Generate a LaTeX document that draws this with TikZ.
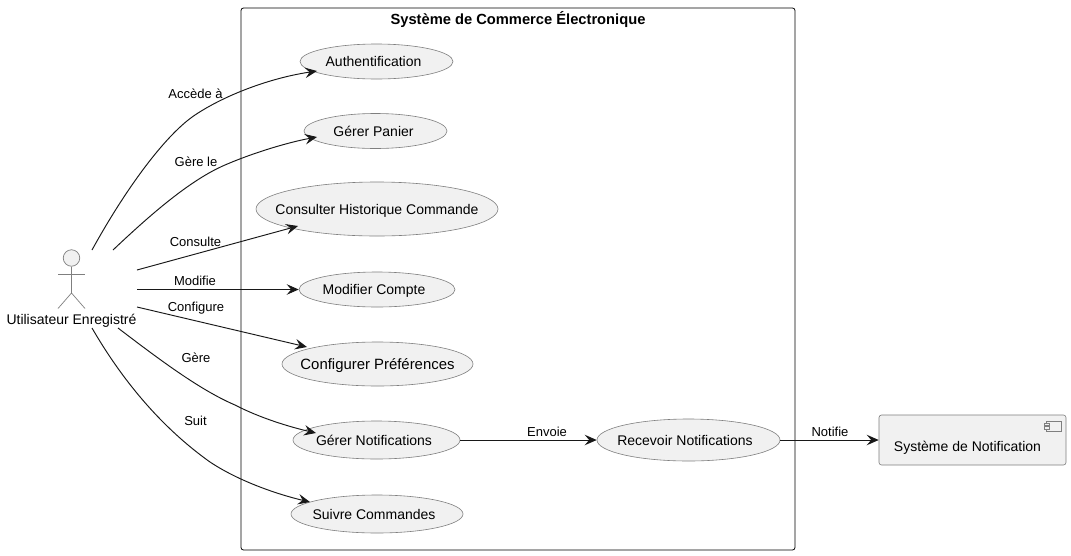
\documentclass[tikz,border=0pt]{standalone}
\usepackage{fontspec}
\setmainfont{Liberation Sans}
\usetikzlibrary{shapes.geometric,arrows.meta}
\definecolor{fillg}{HTML}{F1F1F1}
\definecolor{lineg}{HTML}{7F7F7F}
\definecolor{ink}{HTML}{181818}
\newcommand{\uctext}[2]{\raisebox{-5.3pt}[0pt][0pt]{\makebox[0pt][c]{\hspace*{#1pt}\hspace*{#1pt}#2}}}
\tikzset{
  uc/.style={draw=lineg,fill=fillg,ellipse,line width=0.6pt,inner sep=0pt,font=\fontsize{14}{16}\selectfont,text=black},
  lbl/.style={font=\fontsize{13}{15}\selectfont,text=black,inner sep=0pt},
  conn/.style={draw=ink,line width=0.95pt,-{Stealth[length=12pt,width=10.5pt,inset=4.5pt]}},
  act/.style={draw=lineg,line width=0.7pt}
}
\begin{document}
\begin{tikzpicture}[x=1pt,y=-1pt]
\useasboundingbox (0,0) rectangle (1071,555);
\fill[white] (0,0) rectangle (1071,555);
\node[draw=black,line width=0.8pt,rounded corners=2.5pt,minimum width=554pt,minimum height=542pt,inner sep=0pt] (sys) at (518,279) {};
\node[font=\fontsize{14.7}{16}\selectfont\bfseries,inner sep=0pt] (systitle) at (518,19.5) {Système de Commerce Électronique};

\node[uc,minimum width=153pt,minimum height=35pt] (auth) at (376.5,61.5) {\uctext{-3}{Authentification}};
\node[uc,minimum width=143pt,minimum height=35pt] (panier) at (375.5,131) {\uctext{-2}{Gérer Panier}};
\node[uc,minimum width=242pt,minimum height=54pt] (hist) at (377,209) {\uctext{0}{Consulter Historique Commande}};
\node[uc,minimum width=156pt,minimum height=35pt] (compte) at (377,289.5) {\uctext{-3}{Modifier Compte}};
\node[uc,font=\fontsize{14.9}{16}\selectfont,minimum width=191pt,minimum height=44pt] (pref) at (377.5,364) {\uctext{0}{Configurer Préférences}};
\node[uc,minimum width=167pt,minimum height=38pt] (gnotif) at (376.5,440) {\uctext{-2.5}{Gérer Notifications}};
\node[uc,minimum width=183pt,minimum height=42pt] (rnotif) at (688.5,440) {\uctext{-3.5}{Recevoir Notifications}};
\node[uc,minimum width=172pt,minimum height=38pt] (suivre) at (377,514) {\uctext{-3}{Suivre Commandes}};

\node[draw=lineg,fill=fillg,line width=0.6pt,rounded corners=2.5pt,minimum width=187pt,minimum height=50pt,inner sep=0pt] (comp) at (972.5,440) {};
\node[font=\fontsize{14}{16}\selectfont,inner sep=0pt] (comptxt) at (967.5,447.5) {Système de Notification};
\draw[lineg,line width=0.6pt,fill=fillg] (1046.7,421) rectangle (1061.7,431);
\draw[lineg,line width=0.6pt,fill=fillg] (1044,423) rectangle (1049.5,425.5);
\draw[lineg,line width=0.6pt,fill=fillg] (1044,426.5) rectangle (1049.5,429);

\node[draw=lineg,fill=fillg,circle,line width=0.7pt,minimum size=16.5pt,inner sep=0pt] (head) at (71.5,258) {};
\coordinate (hip) at (71.5,293);
\coordinate (armL) at (58,274);
\coordinate (armR) at (85,274);
\coordinate (legL) at (58,308.5);
\coordinate (legR) at (85,308.5);
\draw[act] (head.south) -- (hip);
\draw[act] (armL) -- (armR);
\draw[act] (legL) -- (hip) -- (legR);
\node[font=\fontsize{14}{16}\selectfont,inner sep=0pt] (actor) at (71.5,321) {Utilisateur Enregistré};

\coordinate (s1) at (92,250);
\coordinate (s2) at (113,250);
\coordinate (s3) at (137,270);
\coordinate (s4) at (137,289.5);
\coordinate (s5) at (137,307);
\coordinate (s6) at (118,328);
\coordinate (s7) at (92,328);
\coordinate (e1) at (317,71);
\coordinate (e2) at (317,137);
\coordinate (e3) at (298,226);
\coordinate (e5) at (307,347);
\coordinate (e6) at (316,433);
\coordinate (e7) at (310,502);

\draw[conn] (s1) .. controls (125,190) and (165,135) .. (195,115) .. controls (225,95) and (270,78) .. (e1);
\draw[conn] (s2) .. controls (150,215) and (190,180) .. (225,165) .. controls (255,152) and (290,142) .. (e2);
\draw[conn] (s3) -- (e3);
\draw[conn] (s4) -- (compte.west);
\draw[conn] (s5) -- (e5);
\draw[conn] (s6) .. controls (160,360) and (200,390) .. (235,405) .. controls (260,418) and (290,427) .. (e6);
\draw[conn] (s7) .. controls (125,385) and (165,430) .. (210,462) .. controls (240,482) and (280,495) .. (e7);
\draw[conn] (gnotif.east) -- (rnotif.west);
\draw[conn] (rnotif.east) -- (comp.west);

\node[lbl] (l1) at (195.5,93.5) {Accède à};
\node[lbl] (l2) at (196,161.5) {Gère le};
\node[lbl] (l3) at (195.5,241.5) {Consulte};
\node[lbl] (l4) at (195,281) {Modifie};
\node[lbl] (l5) at (196,308) {Configure};
\node[lbl] (l6) at (196,357.5) {Gère};
\node[lbl] (l7) at (195.5,421) {Suit};
\node[lbl] (l8) at (547,432) {Envoie};
\node[lbl] (l9) at (830,432) {Notifie};
\end{tikzpicture}
\end{document}
